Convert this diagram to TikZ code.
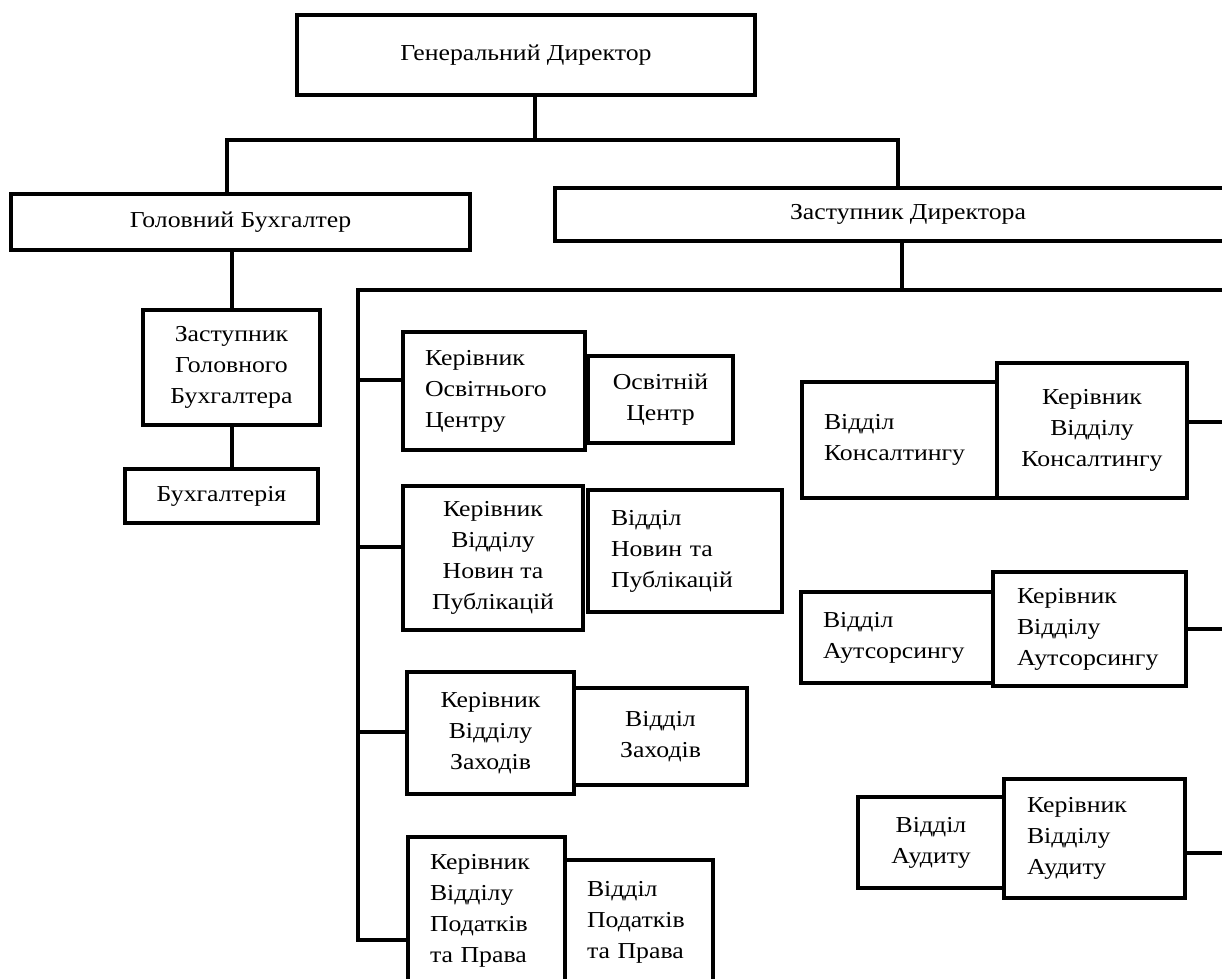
\documentclass[tikz,border=0pt]{standalone}
\usepackage{fontspec}
\setmainfont[FakeStretch=1.13]{Liberation Serif}

\begin{document}
\begin{tikzpicture}
    [line cap=rect,line join=miter,x=0.5pt,y=-0.5pt,
     unit/.style={draw=black,line width=2pt,inner sep=0pt,align=center,font=\fontsize{11.4pt}{15.5pt}\selectfont},
     unitl/.style={unit,align=left},
     link/.style={color=black,line width=2pt}]
%frame of the scheme
\useasboundingbox (0,0) rectangle (1222,979);
\fill[white] (0,0) rectangle (1222,979);
\clip (0,0) rectangle (1222,979);

%top level
 \node[unit,minimum width=229pt,minimum height=40pt] (gd) at (526,55) {Генеральний Директор};
 \node[unit,minimum width=229.5pt,minimum height=28pt] (gb) at (240.5,222) {Головний Бухгалтер};
 \node[unit,minimum width=353pt,minimum height=26.5pt] (zd) at (908,214.5) {Заступник Директора};

%accounting branch
 \node[unit,minimum width=88.5pt,minimum height=57.5pt] (zgb) at (231.5,367) {Заступник\\Головного\\Бухгалтера};
 \node[unit,minimum width=96.5pt,minimum height=27pt] (buh) at (221.5,496) {Бухгалтерія};

%left column of the deputy
 \node[unitl,minimum width=91pt,minimum height=59pt,inner xsep=11pt,text width=69pt] (kos) at (494,391) {Керівник\\Освітнього\\Центру};
 \node[unit,minimum width=72.5pt,minimum height=43.5pt] (oc) at (660.5,399.5) {Освітній\\Центр};
 \node[unit,minimum width=90pt,minimum height=72pt] (knp) at (493,558) {Керівник\\Відділу\\Новин та\\Публікацій};
 \node[unitl,minimum width=97pt,minimum height=61pt,inner xsep=11.5pt,text width=74pt] (vnp) at (685,551) {Відділ\\Новин та\\Публікацій};
 \node[unit,minimum width=83.5pt,minimum height=61pt] (kz) at (490.5,733) {Керівник\\Відділу\\Заходів};
 \node[unit,minimum width=86.5pt,minimum height=48.5pt] (vz) at (660.5,736.5) {Відділ\\Заходів};
 \node[unitl,minimum width=78.5pt,minimum height=74pt,inner xsep=11pt,text width=56.5pt] (kpp) at (486.5,911) {Керівник\\Відділу\\Податків\\та Права};
 \node[unitl,minimum width=74pt,minimum height=62.5pt,inner xsep=11pt,text width=52pt] (vpp) at (639,922.5) {Відділ\\Податків\\та Права};

%right column of the deputy
 \node[unitl,minimum width=97.5pt,minimum height=58pt,inner xsep=11pt,text width=75.5pt] (vk) at (899.5,440) {Відділ\\Консалтингу};
 \node[unit,minimum width=95pt,minimum height=67.5pt] (kvk) at (1092,430.5) {Керівник\\Відділу\\Консалтингу};
 \node[unitl,minimum width=96pt,minimum height=45.5pt,inner xsep=11pt,text width=74pt] (va) at (897,637.5) {Відділ\\Аутсорсингу};
 \node[unitl,minimum width=96.5pt,minimum height=57pt,inner xsep=12pt,text width=72.5pt] (kva) at (1089.5,629) {Керівник\\Відділу\\Аутсорсингу};
 \node[unit,minimum width=73pt,minimum height=45.5pt] (vaud) at (931,842.5) {Відділ\\Аудиту};
 \node[unitl,minimum width=90.5pt,minimum height=59.5pt,inner xsep=11.5pt,text width=67.5pt] (kvaud) at (1094.5,838.5) {Керівник\\Відділу\\Аудиту};

%connections of the top level
 \coordinate (gdj) at (535,140);
 \coordinate (gbj) at (227,140);
 \coordinate (zdj) at (898,140);
 \draw[link] (gd.south -| gdj) -- (gdj);
 \draw[link] (gb.north -| gbj) -- (gbj) -- (zdj) -- (zd.north -| zdj);
 \draw[link] (gb.south -| zgb.north) -- (zgb.north);
 \draw[link] (zgb.south) -- (zgb.south |- buh.north);

%bus under the deputy
 \coordinate (zdb) at (902,290);
 \coordinate (busl) at (358,290);
 \coordinate (busr) at (1240,290);
 \draw[link] (zd.south -| zdb) -- (zdb);
 \foreach \nm/\yy in {kos/380,knp/547,kz/732,kpp/940}{
   \coordinate (b\nm) at (358,\yy);
   \draw[link] (b\nm) -- (b\nm -| \nm.west);
 }
 \draw[link] (busr) -- (busl) -- (bkpp);
%stubs to the right edge
 \foreach \nm/\yy in {kvk/422,kva/629,kvaud/853}{
   \coordinate (r\nm) at (1240,\yy);
   \draw[link] (\nm.east |- r\nm) -- (r\nm);
 }
\end{tikzpicture}
\end{document}
